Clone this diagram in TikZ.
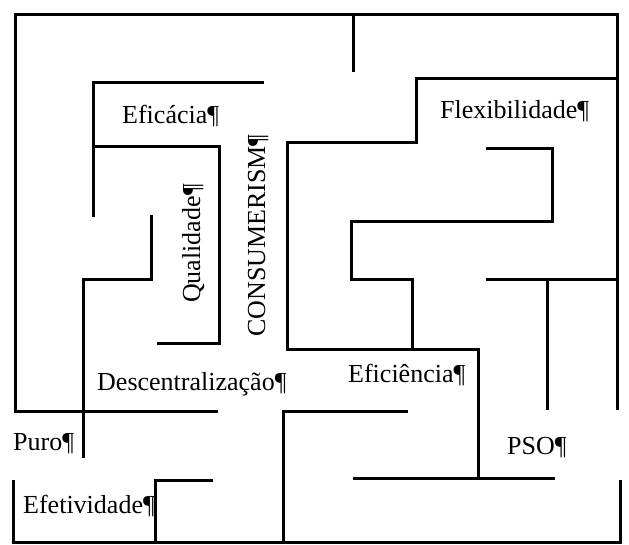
\documentclass[tikz,border=0pt]{standalone}
\usepackage{fontspec}
\setmainfont{Liberation Serif}

\begin{document}
\begin{tikzpicture}[x=1pt,y=-1pt,
		wall/.style={line width=3pt,line join=miter},
		lbl/.style={font=\fontsize{26}{30}\selectfont,inner sep=0pt,anchor=base west}]
		\useasboundingbox (0,0) rectangle (629,544);
%		\draw[help lines,step=50] (0,0) grid (629,544);
		\path (122,123) coordinate (eficacia);
		\path (440,118) coordinate (flex);
		\path (265,337) coordinate (consum);
		\path (200,303) coordinate (qual);
		\path (97,390) coordinate (descent);
		\path (348,382) coordinate (eficiencia);
		\path (13,450) coordinate (puro);
		\path (23,513) coordinate (efetiv);
		\path (507,454) coordinate (pso);

		% outer walls
		\draw[wall] (218,411) -- (15,411) -- (15,14) -- (617,14) -- (617,410);
		\draw[wall] (13,480) -- (13,542) -- (620,542) -- (620,480);
		\draw[wall] (353,14) -- (353,72);

		% left half
		\draw[wall] (264,82) -- (93,82) -- (93,217);
		\draw[wall] (93,146) -- (219,146) -- (219,343) -- (157,343);
		\draw[wall] (151,215) -- (151,279) -- (83,279) -- (83,458);
		\draw[wall] (213,480) -- (155,480) -- (155,542);
		\draw[wall] (408,411) -- (283,411) -- (283,542);

		% right half
		\draw[wall] (617,78) -- (416,78) -- (416,142) -- (287,142) -- (287,349) -- (478,349) -- (478,478);
		\draw[wall] (353,478) -- (555,478);
		\draw[wall] (486,148) -- (552,148) -- (552,221) -- (351,221) -- (351,279) -- (412,279) -- (412,349);
		\draw[wall] (486,279) -- (617,279);
		\draw[wall] (547,279) -- (547,410);

		% labels
		\node[lbl] (eficaciatext) at (eficacia) {Eficácia¶};
		\node[lbl] (flextext) at (flex) {Flexibilidade¶};
		\node[lbl,rotate=90] (consumtext) at (consum) {CONSUMERISM¶};
		\node[lbl,rotate=90] (qualtext) at (qual) {Qualidade¶};
		\node[lbl] (descenttext) at (descent) {Descentralização¶};
		\node[lbl] (eficienciatext) at (eficiencia) {Eficiência¶};
		\node[lbl] (purotext) at (puro) {Puro¶};
		\node[lbl] (efetivtext) at (efetiv) {Efetividade¶};
		\node[lbl] (psotext) at (pso) {PSO¶};
	\end{tikzpicture}
\end{document}
